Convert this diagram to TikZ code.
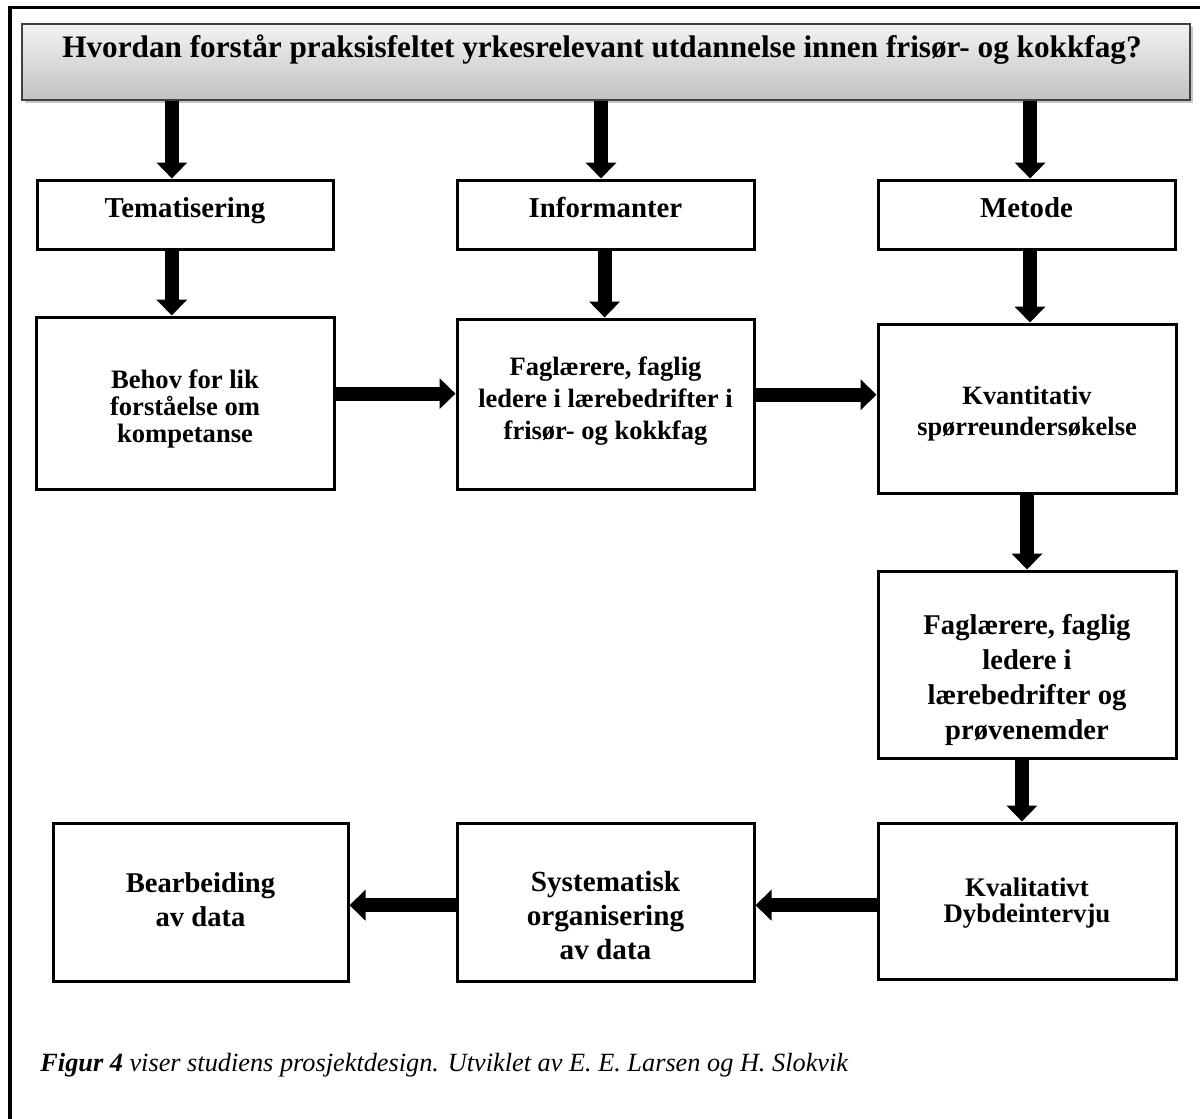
\documentclass[tikz,border=0pt]{standalone}
\usepackage{fontspec}
\setmainfont{Liberation Serif}
\usetikzlibrary{arrows.meta,calc,shadows}
\begin{document}
\begin{tikzpicture}[x=0.5pt,y=-0.5pt,
  box/.style={draw=black,line width=1.5pt,fill=white,inner sep=0pt},
  lbl/.style={inner sep=0pt,align=center},
  flow/.style={line width=7pt,-{Triangle[length=8pt,width=15pt]}},
  fs/.style 2 args={font=\bfseries\fontsize{#1}{#2}\selectfont}]
\useasboundingbox (0,0) rectangle (1200,1119);

% outer frame (top and left edges)
\draw[line width=1.75pt] (10,1125) -- (10,7.5) -- (1205,7.5);

% question banner
\node[draw=black!75,line width=0.8pt,top color=black!5,bottom color=black!24,
      minimum width=584pt,minimum height=38pt,inner sep=0pt,
      drop shadow={shadow xshift=1.5pt,shadow yshift=-1.5pt,opacity=0.45}]
      (q) at (606,62) {};
\node[anchor=base,inner sep=0pt,fs={15.62}{18}] (qt) at (602,57)
  {Hvordan forstår praksisfeltet yrkesrelevant utdannelse innen frisør- og kokkfag?};

% boxes
\node[box,minimum width=148pt,minimum height=34.5pt]   (tema)  at (185,214.5) {};
\node[box,minimum width=148.5pt,minimum height=34.5pt] (info)  at (605.5,214.5) {};
\node[box,minimum width=148.5pt,minimum height=34.5pt] (meto)  at (1026.5,214.5) {};
\node[box,minimum width=149pt,minimum height=86pt]     (behov) at (185,403) {};
\node[box,minimum width=148.5pt,minimum height=85pt]   (fagl)  at (605.5,404) {};
\node[box,minimum width=149pt,minimum height=84.5pt]   (kvant) at (1027,408.5) {};
\node[box,minimum width=149pt,minimum height=93.5pt]   (fagl2) at (1027,664.5) {};
\node[box,minimum width=149pt,minimum height=78pt]     (kval)  at (1027,901) {};
\node[box,minimum width=148.5pt,minimum height=79pt]   (syst)  at (605.5,902) {};
\node[box,minimum width=147.5pt,minimum height=79pt]   (bearb) at (200.5,902) {};

% box texts
\begin{scope}[every node/.append style={lbl,text height=0.7em,text depth=0.22em}]
\node[fs={14.4}{17}] (tema-t) at (185,213)   {Tematisering};
\node[fs={14.4}{17}] (info-t) at (605.5,213) {Informanter};
\node[fs={14.4}{17}] (meto-t) at (1026.5,213) {Metode};
\end{scope}
\node[lbl,fs={13.3}{13.6}]  (behov-t) at (185,409)   {Behov for lik\\forståelse om\\kompetanse};
\node[lbl,fs={13.25}{16}]   (fagl-t)  at (605.5,401) {Faglærere, faglig\\ledere i lærebedrifter i\\frisør- og kokkfag};
\node[lbl,fs={13.2}{15.5}]  (kvant-t) at (1027,414)  {Kvantitativ\\spørreundersøkelse};
\node[lbl,fs={14.3}{17.5}]  (fagl2-t) at (1027,680)  {Faglærere, faglig\\ledere i\\lærebedrifter og\\prøvenemder};
\node[lbl,fs={13.4}{13}]    (kval-t)  at (1027,903.5) {Kvalitativt\\Dybdeintervju};
\node[lbl,fs={14.6}{17}]    (syst-t)  at (605.5,916) {Systematisk\\organisering\\ av data};
\node[lbl,fs={14.3}{17}]    (bearb-t) at (200.5,899.5) {Bearbeiding\\av data};

% caption
\node[anchor=base west,inner sep=0pt,font=\itshape\fontsize{13.15}{15}\selectfont] (cap) at (40,1071)
  {\textbf{Figur 4} viser studiens prosjektdesign. Utviklet av E. E. Larsen og H. Slokvik};

% arrow landing points
\coordinate (t1) at ($(tema.north west)!0.456!(tema.north east)$);
\coordinate (i1) at ($(info.north west)!0.485!(info.north east)$);
\coordinate (m1) at ($(meto.north west)!0.512!(meto.north east)$);
\coordinate (b1) at ($(behov.north west)!0.456!(behov.north east)$);
\coordinate (f1) at ($(fagl.north west)!0.497!(fagl.north east)$);
\coordinate (k1) at ($(kvant.north west)!0.51!(kvant.north east)$);
\coordinate (k2) at ($(fagl2.north west)!0.5!(fagl2.north east)$);
\coordinate (k3) at ($(kval.north west)!0.483!(kval.north east)$);
\coordinate (h1) at ($(fagl.north west)!0.44!(fagl.south west)$);
\coordinate (h2) at ($(kvant.north west)!0.42!(kvant.south west)$);
\coordinate (h3) at ($(syst.north east)!0.52!(syst.south east)$);
\coordinate (h4) at ($(bearb.north east)!0.52!(bearb.south east)$);

% connectors
\draw[flow] (q.south -| t1) -- (t1);
\draw[flow] (q.south -| i1) -- (i1);
\draw[flow] (q.south -| m1) -- (m1);
\draw[flow] (tema.south -| b1) -- (b1);
\draw[flow] (info.south -| f1) -- (f1);
\draw[flow] (meto.south -| k1) -- (k1);
\draw[flow] (behov.east |- h1) -- (h1);
\draw[flow] (fagl.east |- h2) -- (h2);
\draw[flow] (kvant.south -| k2) -- (k2);
\draw[flow] (fagl2.south -| k3) -- (k3);
\draw[flow] (kval.west |- h3) -- (h3);
\draw[flow] (syst.west |- h4) -- (h4);
\end{tikzpicture}
\end{document}
